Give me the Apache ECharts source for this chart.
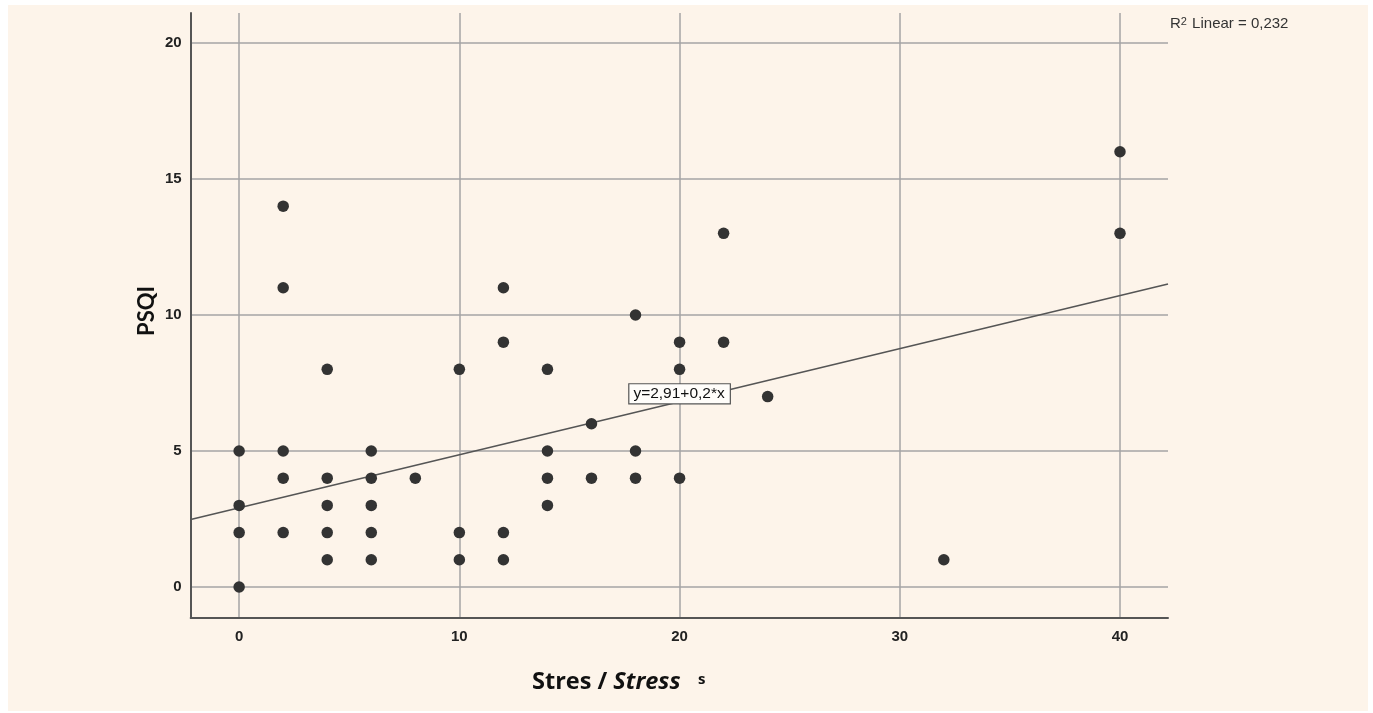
<!DOCTYPE html>
<html>
<head>
<meta charset="utf-8">
<script src="https://cdn.jsdelivr.net/npm/echarts@6/dist/echarts.min.js"></script>
<style>
  html, body { margin: 0; padding: 0; background: #ffffff; }
  #chart { position: absolute; left: 8px; top: 5px; width: 1360px; height: 706px; background: #fdf4ea; }
</style>
</head>
<body>
<div id="chart"></div>
<script>
// Data
const stressX = [0, 0, 0, 0, 2, 2, 2, 2, 2, 4, 4, 4, 4, 4, 6, 6, 6, 6, 6, 8, 10, 10, 10, 12, 12, 12, 12, 14, 14, 14, 14, 16, 16, 18, 18, 18, 20, 20, 20, 22, 22, 24, 32, 40, 40];
const psqiY   = [5, 3, 2, 0, 14, 11, 5, 4, 2, 8, 4, 3, 2, 1, 5, 4, 3, 2, 1, 4, 8, 2, 1, 11, 9, 2, 1, 8, 5, 4, 3, 6, 4, 10, 5, 4, 9, 8, 4, 13, 9, 7, 1, 16, 13];
const xTicks = [0, 10, 20, 30, 40];
const yTicks = [0, 5, 10, 15, 20];
const fitIntercept = 2.91;
const fitSlope = 0.195;
const xRange = [-2.2, 42.18];
const yRange = [-1.14, 21.1];
const equationText = 'y=2,91+0,2*x';
const equationAt = [20, 7.1];
const r2Value = '0,232';

const points = stressX.map((x, i) => [x, psqiY[i]]);
const fitLine = xRange.map(x => [x, fitIntercept + fitSlope * x]);

const chart = echarts.init(document.getElementById('chart'), null, { renderer: 'canvas' });

const tickLabelStyle = { color: '#222', fontFamily: 'Liberation Sans, Arial, sans-serif', fontSize: 15, fontWeight: 'bold' };

chart.setOption({
  backgroundColor: '#fdf4ea',
  animation: false,
  grid: { left: 182.7, right: 200, top: 8, bottom: 93, containLabel: false },
  xAxis: {
    type: 'value',
    min: xRange[0], max: xRange[1],
    axisLine: { show: true, onZero: false, lineStyle: { color: '#555', width: 2 } },
    axisTick: { show: false, customValues: xTicks },
    axisLabel: Object.assign({ customValues: xTicks, margin: 11 }, tickLabelStyle),
    splitLine: { show: true, lineStyle: { color: '#a4a4a4', width: 1.5 } }
  },
  yAxis: {
    type: 'value',
    min: yRange[0], max: yRange[1],
    axisLine: { show: true, onZero: false, lineStyle: { color: '#555', width: 2 } },
    axisTick: { show: false, customValues: yTicks },
    axisLabel: Object.assign({ customValues: yTicks, margin: 9 }, tickLabelStyle),
    splitLine: { show: true, lineStyle: { color: '#a4a4a4', width: 1.5 } }
  },
  series: [
    {
      type: 'line',
      data: fitLine,
      symbol: 'none',
      silent: true,
      lineStyle: { color: '#555', width: 1.6 },
      z: 3,
      markPoint: {
        symbol: 'rect',
        symbolSize: 1,
        itemStyle: { color: 'rgba(0,0,0,0)' },
        z: 10,
        data: [{ coord: equationAt, value: equationText }],
        label: {
          show: true,
          position: 'inside',
          formatter: equationText,
          color: '#111',
          fontFamily: 'Liberation Sans, Arial, sans-serif',
          fontSize: 15.5,
          backgroundColor: '#fffdfa',
          borderColor: '#555',
          borderWidth: 1.2,
          padding: [2, 5, 1, 4]
        }
      }
    },
    {
      type: 'scatter',
      data: points,
      symbol: 'circle',
      symbolSize: 11.5,
      itemStyle: { color: '#333', opacity: 1 },
      z: 5
    }
  ],
  graphic: [
    {
      type: 'text',
      left: 1162, top: 11,
      style: {
        text: 'R{sup|2} Linear = ' + r2Value,
        fill: '#333',
        font: '15px "Liberation Sans", Arial, sans-serif',
        rich: {
          sup: { fontSize: 11, verticalAlign: 'top', lineHeight: 15, padding: [0, 1, 6, 0], fill: '#333' }
        }
      }
    },
    {
      type: 'text',
      x: 139, y: 306,
      rotation: Math.PI / 2,
      style: {
        text: 'PSQI',
        fill: '#111',
        font: 'bold 22px Lato, "Open Sans", sans-serif',
        align: 'center',
        verticalAlign: 'middle'
      }
    },
    {
      type: 'text',
      left: 524, top: 665,
      style: {
        text: '{a|Stres / }{b|Stress}',
        rich: {
          a: { fontFamily: '"Open Sans", sans-serif', fontWeight: 'bold', fontSize: 23.5, fill: '#111' },
          b: { fontFamily: '"Open Sans", sans-serif', fontWeight: 'bold', fontStyle: 'italic', fontSize: 23.5, fill: '#111' }
        }
      }
    },
    {
      type: 'text',
      left: 690, top: 667,
      style: {
        text: 's',
        fill: '#111',
        font: 'bold 15px "Open Sans", sans-serif'
      }
    }
  ]
});
</script>
</body>
</html>
